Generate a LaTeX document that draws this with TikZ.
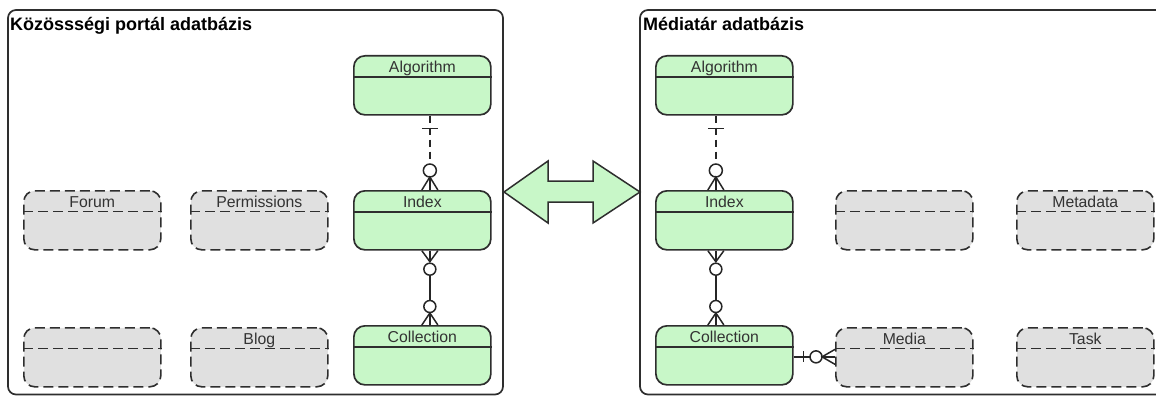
\documentclass[tikz,border=0pt]{standalone}
\usepackage{fontspec}
\setmainfont{Liberation Sans}
\begin{document}
\begin{tikzpicture}[x=1pt,y=-1pt]
\definecolor{edge}{HTML}{2E2E2E}
\definecolor{entfill}{HTML}{C8F7C8}
\definecolor{ghostfill}{HTML}{E0E0E0}
\definecolor{txt}{HTML}{333333}
\tikzset{
 ent/.style={draw=edge, fill=entfill, rounded corners=11pt, line width=1.7pt, minimum width=137pt, minimum height=59pt, inner sep=0pt, anchor=north west},
 ghost/.style={draw=edge, fill=ghostfill, rounded corners=11pt, line width=1.6pt, dash pattern=on 10pt off 5pt, minimum width=137pt, minimum height=59pt, inner sep=0pt, anchor=north west},
 hline/.style={draw=edge, line width=1.5pt},
 ghline/.style={draw=edge, line width=1.5pt, dash pattern=on 10pt off 5pt},
 etext/.style={font=\fontsize{15.8}{16}\selectfont, text=txt, anchor=base, inner sep=0pt},
 ttext/.style={font=\fontsize{18}{20}\selectfont\bfseries, text=black, anchor=base west, inner sep=0pt},
 pkg/.style={draw=edge, line width=1.7pt, rounded corners=8pt},
 conn/.style={draw=black!85, line width=1.5pt},
 dconn/.style={conn, dash pattern=on 7pt off 5pt},
 bigarrow/.style={draw=edge, fill=entfill, line width=1.5pt, line join=miter},
}
\useasboundingbox (0,0) rectangle (1156,396);
\clip (0,0) rectangle (1156,396);
% packages
\draw[pkg] (8,10) rectangle (503,394.5);
\draw[pkg] (640,10) rectangle (1175,394.5);
\node[ttext] (t1) at (10,31) {Közössségi portál adatbázis};
\node[ttext] (t2) at (643,31) {Médiatár adatbázis};
% double arrow
\coordinate (aL) at (504,192);
\coordinate (aR) at (640,192);
\draw[bigarrow] (aL) -- (548,161) -- (548,181) -- (593,181) -- (593,161) -- (aR) -- (593,223) -- (593,202) -- (548,202) -- (548,223) -- cycle;
% left entities
\node[ent] (alg1) at (353,55) {};
\node[ent] (idx1) at (353,190) {};
\node[ent] (col1) at (353,325) {};
% right entities
\node[ent] (alg2) at (655,55) {};
\node[ent] (idx2) at (655,190) {};
\node[ent] (col2) at (655,325) {};
% ghost boxes
\node[ghost] (forum) at (23,190) {};
\node[ghost] (perm) at (190,190) {};
\node[ghost] (g1) at (23,327) {};
\node[ghost] (blog) at (190,327) {};
\node[ghost] (g2) at (835,190) {};
\node[ghost] (meta) at (1016,190) {};
\node[ghost] (media) at (835,327) {};
\node[ghost] (task) at (1016,327) {};
% headers
\foreach \n in {alg1,idx1,col1,alg2,idx2,col2}{
  \draw[hline] ([yshift=-22pt]\n.north west) -- ([yshift=-22pt]\n.north east);
}
\foreach \n in {forum,perm,g1,blog,g2,meta,media,task}{
  \draw[ghline] ([yshift=-21.5pt]\n.north west) -- ([yshift=-21.5pt]\n.north east);
}
% texts
\node[etext] (talg1) at ([yshift=-17pt]alg1.north) {Algorithm};
\node[etext] (tidx1) at ([yshift=-17pt]idx1.north) {Index};
\node[etext] (tcol1) at ([yshift=-17pt]col1.north) {Collection};
\node[etext] (talg2) at ([yshift=-17pt]alg2.north) {Algorithm};
\node[etext] (tidx2) at ([yshift=-17pt]idx2.north) {Index};
\node[etext] (tcol2) at ([yshift=-17pt]col2.north) {Collection};
\node[etext] (tforum) at ([yshift=-17pt]forum.north) {Forum};
\node[etext] (tperm) at ([yshift=-17pt]perm.north) {Permissions};
\node[etext] (tblog) at ([yshift=-17pt]blog.north) {Blog};
\node[etext] (tmeta) at ([yshift=-17pt]meta.north) {Metadata};
\node[etext] (tmedia) at ([yshift=-17pt]media.north) {Media};
\node[etext] (ttask) at ([yshift=-17pt]task.north) {Task};
% ---- left column connectors (offset +7.5)
\draw[dconn] ([xshift=7.5pt]alg1.south) -- ([xshift=7.5pt,yshift=26pt]idx1.north);
\draw[conn] ([xshift=-0.5pt,yshift=-13pt]alg1.south) -- ([xshift=15.5pt,yshift=-13pt]alg1.south);
\draw[conn, fill=white] ([xshift=7.5pt,yshift=19.5pt]idx1.north) circle[radius=6.5pt];
\draw[conn] ([xshift=-0.5pt]idx1.north) -- ([xshift=7.5pt,yshift=13pt]idx1.north) -- ([xshift=15.5pt]idx1.north);
\draw[conn] ([xshift=7.5pt,yshift=13pt]idx1.north) -- ([xshift=7.5pt]idx1.north);
\draw[conn] ([xshift=7.5pt,yshift=-25pt]idx1.south) -- ([xshift=7.5pt,yshift=25pt]col1.north);
\draw[conn, fill=white] ([xshift=7.5pt,yshift=-18.5pt]idx1.south) circle[radius=6pt];
\draw[conn] ([xshift=-0.5pt]idx1.south) -- ([xshift=7.5pt,yshift=-11pt]idx1.south) -- ([xshift=15.5pt]idx1.south);
\draw[conn] ([xshift=7.5pt,yshift=-11pt]idx1.south) -- ([xshift=7.5pt]idx1.south);
\draw[conn, fill=white] ([xshift=7.5pt,yshift=18.5pt]col1.north) circle[radius=6pt];
\draw[conn] ([xshift=-0.5pt]col1.north) -- ([xshift=7.5pt,yshift=12pt]col1.north) -- ([xshift=15.5pt]col1.north);
\draw[conn] ([xshift=7.5pt,yshift=12pt]col1.north) -- ([xshift=7.5pt]col1.north);
% ---- right column connectors (offset -8.5)
\draw[dconn] ([xshift=-8.5pt]alg2.south) -- ([xshift=-8.5pt,yshift=26pt]idx2.north);
\draw[conn] ([xshift=-16.5pt,yshift=-13pt]alg2.south) -- ([xshift=-0.5pt,yshift=-13pt]alg2.south);
\draw[conn, fill=white] ([xshift=-8.5pt,yshift=19.5pt]idx2.north) circle[radius=6.5pt];
\draw[conn] ([xshift=-16.5pt]idx2.north) -- ([xshift=-8.5pt,yshift=13pt]idx2.north) -- ([xshift=-0.5pt]idx2.north);
\draw[conn] ([xshift=-8.5pt,yshift=13pt]idx2.north) -- ([xshift=-8.5pt]idx2.north);
\draw[conn] ([xshift=-8.5pt,yshift=-25pt]idx2.south) -- ([xshift=-8.5pt,yshift=25pt]col2.north);
\draw[conn, fill=white] ([xshift=-8.5pt,yshift=-18.5pt]idx2.south) circle[radius=6pt];
\draw[conn] ([xshift=-16.5pt]idx2.south) -- ([xshift=-8.5pt,yshift=-11pt]idx2.south) -- ([xshift=-0.5pt]idx2.south);
\draw[conn] ([xshift=-8.5pt,yshift=-11pt]idx2.south) -- ([xshift=-8.5pt]idx2.south);
\draw[conn, fill=white] ([xshift=-8.5pt,yshift=18.5pt]col2.north) circle[radius=6pt];
\draw[conn] ([xshift=-16.5pt]col2.north) -- ([xshift=-8.5pt,yshift=12pt]col2.north) -- ([xshift=-0.5pt]col2.north);
\draw[conn] ([xshift=-8.5pt,yshift=12pt]col2.north) -- ([xshift=-8.5pt]col2.north);
% ---- Collection -> Media
\coordinate (cm) at ([yshift=-1.5pt]col2.east);
\coordinate (mm) at (cm -| media.west);
\draw[conn] (cm) -- (mm);
\draw[conn] ([xshift=10pt,yshift=5.5pt]cm) -- ([xshift=10pt,yshift=-5.5pt]cm);
\draw[conn, fill=white] ([xshift=-19pt]mm) circle[radius=6pt];
\draw[conn] ([yshift=7.5pt]mm) -- ([xshift=-13pt]mm) -- ([yshift=-7.5pt]mm);
\end{tikzpicture}
\end{document}
